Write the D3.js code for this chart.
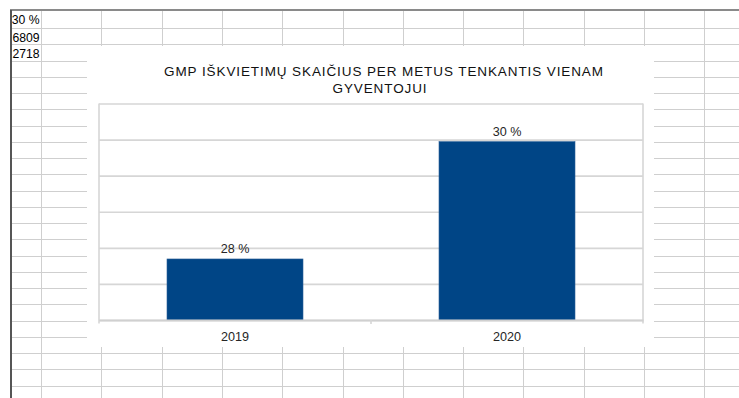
<!DOCTYPE html>
<html>
<head>
<meta charset="utf-8">
<script src="https://cdn.jsdelivr.net/npm/d3@7"></script>
<style>
  html, body { margin: 0; padding: 0; background: #ffffff; }
  svg { display: block; }
  text { font-family: "Liberation Sans", Arial, sans-serif; }
</style>
</head>
<body>
<svg id="chart" width="739" height="398"></svg>
<script>
// Chart data
const categories = ["2019", "2020"];
const values = [0.28, 0.30];
const titleLines = ["GMP IŠKVIETIMŲ SKAIČIUS PER METUS TENKANTIS VIENAM", "GYVENTOJUI"];
const yDomain = [0.2696, 0.3065];
const gridIntervals = 6;

// Worksheet cells visible around the chart
const cellTexts = ["30 %", "6809", "22718"];

const svg = d3.select("#chart");
const W = 739, H = 398;

// ---- worksheet background ----
const sheet = svg.append("g");
const sheetLeft = 10, sheetTop = 10;
const colW = 60.3, rowH = 16.25;
const firstCol = 41, firstRow = 28;

const colXs = d3.range(firstCol, W, colW);
const rowYs = d3.range(firstRow, H, rowH);

sheet.selectAll("line.col").data(colXs).join("line")
  .attr("x1", d => Math.round(d) + 0.5).attr("x2", d => Math.round(d) + 0.5)
  .attr("y1", sheetTop).attr("y2", H)
  .attr("stroke", "#cfcfcf").attr("stroke-width", 1);

sheet.selectAll("line.row").data(rowYs).join("line")
  .attr("x1", sheetLeft).attr("x2", W)
  .attr("y1", d => Math.round(d) + 0.5).attr("y2", d => Math.round(d) + 0.5)
  .attr("stroke", "#cfcfcf").attr("stroke-width", 1);

// sheet frame
sheet.append("line").attr("x1", sheetLeft).attr("x2", W).attr("y1", sheetTop).attr("y2", sheetTop)
  .attr("stroke", "#8a8a8a").attr("stroke-width", 2);
sheet.append("line").attr("x1", sheetLeft + 1).attr("x2", sheetLeft + 1).attr("y1", sheetTop).attr("y2", H)
  .attr("stroke", "#555555").attr("stroke-width", 2);

// cell values, right-aligned in the first column and clipped to it
svg.append("defs").append("clipPath").attr("id", "colA")
  .append("rect").attr("x", sheetLeft + 2).attr("y", sheetTop).attr("width", firstCol - sheetLeft - 2).attr("height", 60);

sheet.append("g").attr("clip-path", "url(#colA)")
  .selectAll("text").data(cellTexts).join("text")
  .attr("x", firstCol - 1.5)
  .attr("y", (d, i) => (i === 0 ? sheetTop : firstRow + (i - 1) * rowH) + 13.5)
  .attr("text-anchor", "end")
  .attr("font-size", "12.2px")
  .attr("fill", "#000")
  .text(d => d);

// ---- chart object ----
const chartBox = { x: 87, y: 46, w: 567, h: 301 };
svg.append("rect")
  .attr("x", chartBox.x).attr("y", chartBox.y)
  .attr("width", chartBox.w).attr("height", chartBox.h)
  .attr("fill", "#ffffff");

const plot = { left: 99, top: 103.5, right: 643, bottom: 320 };
const pw = plot.right - plot.left, ph = plot.bottom - plot.top;

const x = d3.scaleBand().domain(categories).range([plot.left, plot.right])
  .paddingInner(0.5).paddingOuter(0.25);
const y = d3.scaleLinear().domain(yDomain).range([plot.bottom, plot.top]);

// horizontal gridlines at equal steps of the value axis
const step = (yDomain[1] - yDomain[0]) / gridIntervals;
const gridVals = d3.range(gridIntervals + 1).map(i => yDomain[0] + i * step);

const gridAxis = d3.axisLeft(y).tickValues(gridVals).tickFormat("").tickSize(-pw).tickSizeOuter(0);
const gridG = svg.append("g").attr("transform", `translate(${plot.left},0)`).call(gridAxis);
gridG.select(".domain").remove();
gridG.selectAll(".tick line").attr("stroke", "#d6d6d6").attr("stroke-width", 1.6);

// plot area side borders
svg.append("line").attr("x1", plot.left).attr("x2", plot.left).attr("y1", plot.top).attr("y2", plot.bottom + 3.5)
  .attr("stroke", "#d6d6d6").attr("stroke-width", 1.6);
svg.append("line").attr("x1", plot.right).attr("x2", plot.right).attr("y1", plot.top).attr("y2", plot.bottom + 3.5)
  .attr("stroke", "#d6d6d6").attr("stroke-width", 1.6);

// bars
svg.append("g").selectAll("rect").data(values).join("rect")
  .attr("x", (d, i) => x(categories[i]))
  .attr("width", x.bandwidth())
  .attr("y", d => y(d))
  .attr("height", d => y(yDomain[0]) - y(d))
  .attr("fill", "#004586")
  .attr("stroke", "#2a5f97").attr("stroke-width", 0.6);

// category axis
const xAxis = d3.axisBottom(x).tickSize(0).tickPadding(12);
const xg = svg.append("g").attr("transform", `translate(0,${plot.bottom})`).call(xAxis);
xg.select(".domain").attr("stroke", "#d0d0d0").attr("stroke-width", 1.8);
xg.selectAll(".tick text").attr("font-size", "12.6px").attr("fill", "#262626")
  .attr("font-family", "'Liberation Sans', Arial, sans-serif");

// tick mark between the two categories
svg.append("g").selectAll("line").data([(plot.left + plot.right) / 2]).join("line")
  .attr("x1", d => d).attr("x2", d => d)
  .attr("y1", plot.bottom).attr("y2", plot.bottom + 4)
  .attr("stroke", "#d6d6d6").attr("stroke-width", 1.6);

// value labels above bars
const pct = v => Math.round(v * 100) + " %";
svg.append("g").selectAll("text").data(values).join("text")
  .attr("x", (d, i) => x(categories[i]) + x.bandwidth() / 2)
  .attr("y", d => y(d) - 6)
  .attr("text-anchor", "middle")
  .attr("font-size", "12.6px")
  .attr("fill", "#262626")
  .text(d => pct(d));

// title
const titleCenters = [384, 380];
svg.append("g").selectAll("text").data(titleLines).join("text")
  .attr("x", (d, i) => titleCenters[i])
  .attr("y", (d, i) => 75.5 + i * 17)
  .attr("text-anchor", "middle")
  .attr("font-size", "13.5px")
  .attr("letter-spacing", "0.9px")
  .attr("fill", "#111111")
  .text(d => d);
</script>
</body>
</html>
